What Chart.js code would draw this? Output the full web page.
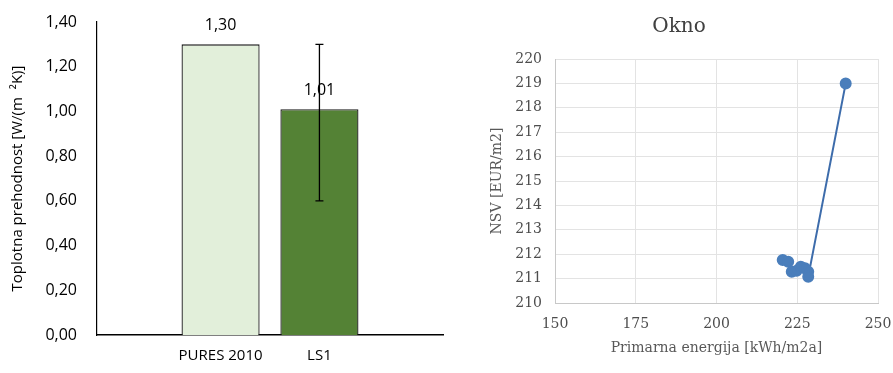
<!DOCTYPE html>
<html>
<head>
<meta charset="utf-8">
<script src="https://cdn.jsdelivr.net/npm/chart.js@4.4.1/dist/chart.umd.min.js"></script>
<style>
  html, body { margin: 0; padding: 0; background: #fff; }
  #wrap { position: relative; width: 893px; height: 373px; }
  .box { position: absolute; top: 0; height: 373px; }
  #uBox { left: 0; width: 450px; }
  #oknoBox { left: 480px; width: 413px; filter: blur(0.6px); }
</style>
</head>
<body>
<div id="wrap">
  <div class="box" id="uBox"><canvas id="uChart" width="450" height="373"></canvas></div>
  <div class="box" id="oknoBox"><canvas id="oknoChart" width="413" height="373"></canvas></div>
</div>
<script>
// Toplotna prehodnost - bar comparison
const uCategories = ['PURES 2010', 'LS1'];
const uPositions = [1.25, 2.25];
const uValues = [1.30, 1.01];
const uErrLow = [null, 0.60];
const uErrHigh = [null, 1.30];
const uColors = ['#e2efda', '#548235'];

// Okno - primary energy vs NSV
const energy = [220.5, 222.2, 223.3, 224.8, 226.1, 227.4, 228.4, 228.4, 240];
const nsv = [211.76, 211.69, 211.28, 211.32, 211.49, 211.42, 211.28, 211.08, 219];

const fmt = v => v.toFixed(2).replace('.', ',');
const noTick = 'rgba(0,0,0,0)';

// value labels + error bar on top of the bars
const barExtras = {
    id: 'barExtras',
    afterDatasetsDraw(chart) {
        const ctx = chart.ctx;
        const yScale = chart.scales.y;
        const bars = chart.getDatasetMeta(0).data;
        ctx.save();
        ctx.fillStyle = '#000';
        ctx.font = '16px "Open Sans"';
        ctx.textAlign = 'center';
        ctx.textBaseline = 'middle';
        bars.forEach((bar, i) => {
            ctx.fillText(fmt(uValues[i]), bar.x, bar.y - 19);
        });
        ctx.strokeStyle = '#000';
        ctx.lineWidth = 1.3;
        bars.forEach((bar, i) => {
            if (uErrLow[i] === null) return;
            const yLo = yScale.getPixelForValue(uErrLow[i]);
            const yHi = yScale.getPixelForValue(uErrHigh[i]);
            ctx.beginPath();
            ctx.moveTo(bar.x, yLo);
            ctx.lineTo(bar.x, yHi);
            ctx.moveTo(bar.x - 4, yLo);
            ctx.lineTo(bar.x + 4, yLo);
            ctx.moveTo(bar.x - 4, yHi);
            ctx.lineTo(bar.x + 4, yHi);
            ctx.stroke();
        });
        ctx.restore();
    }
};

new Chart(document.getElementById('uChart'), {
    type: 'bar',
    data: {
        datasets: [{
            data: uPositions.map((x, i) => ({ x: x, y: uValues[i] })),
            backgroundColor: uColors,
            borderColor: '#1a1a1a',
            borderWidth: 1.3,
            barPercentage: 0.79,
            categoryPercentage: 1
        }]
    },
    options: {
        responsive: false,
        animation: false,
        devicePixelRatio: 1,
        layout: { padding: { left: 0, right: 7, top: 22, bottom: 0 } },
        plugins: { legend: { display: false }, tooltip: { enabled: false } },
        scales: {
            x: {
                type: 'linear',
                min: 0,
                max: 3.5,
                offset: false,
                bounds: 'data',
                afterBuildTicks: scale => { scale.ticks = uPositions.map(v => ({ value: v })); },
                afterFit: scale => { scale.height = 38; },
                grid: { display: false, drawTicks: false, offset: false },
                border: { display: true, color: '#000', width: 1.5 },
                ticks: {
                    autoSkip: false,
                    maxRotation: 0,
                    padding: 12,
                    color: '#000',
                    font: { family: 'Open Sans', size: 15 },
                    callback: (v, i) => uCategories[i]
                }
            },
            y: {
                min: 0,
                max: 1.4,
                afterFit: scale => { scale.width = 97; },
                grid: { display: false, drawTicks: true, tickLength: 20, tickColor: noTick },
                border: { display: true, color: '#000', width: 1.2 },
                ticks: {
                    stepSize: 0.2,
                    padding: 0,
                    color: '#000',
                    font: { family: 'Open Sans', size: 16 },
                    callback: v => fmt(v)
                },
                title: {
                    display: true,
                    text: 'Toplotna prehodnost [W/(m  ²K)]',
                    color: '#000',
                    padding: { top: 9 },
                    font: { family: 'Open Sans', size: 15 }
                }
            }
        }
    },
    plugins: [barExtras]
});

const serif = { family: 'DejaVu Serif', size: 14 };

new Chart(document.getElementById('oknoChart'), {
    type: 'scatter',
    data: {
        datasets: [{
            data: energy.map((x, i) => ({ x: x, y: nsv[i] })),
            showLine: true,
            borderColor: '#3d6cab',
            borderWidth: 2,
            pointRadius: 5,
            pointBackgroundColor: '#4a7ebb',
            pointBorderColor: '#4a7ebb'
        }]
    },
    options: {
        responsive: false,
        animation: false,
        devicePixelRatio: 1,
        layout: { padding: { left: 0, right: 15, top: 0, bottom: 0 } },
        plugins: {
            legend: { display: false },
            tooltip: { enabled: false },
            title: {
                display: true,
                text: 'Okno',
                color: '#404040',
                padding: { top: 15, bottom: 20 },
                font: { family: 'DejaVu Serif', size: 20, weight: 'normal' }
            }
        },
        scales: {
            x: {
                min: 150,
                max: 250,
                afterFit: scale => { scale.height = 70; },
                grid: { color: '#e3e3e3', drawTicks: true, tickLength: 13, tickColor: noTick },
                border: { color: '#c8c8c8' },
                ticks: { stepSize: 25, padding: 0, color: '#4d4d4d', font: serif },
                title: {
                    display: true,
                    text: 'Primarna energija [kWh/m2a]',
                    color: '#595959',
                    padding: { bottom: 16 },
                    font: serif
                }
            },
            y: {
                min: 210,
                max: 220,
                afterFit: scale => { scale.width = 75; },
                grid: { color: '#e3e3e3', drawTicks: true, tickLength: 13, tickColor: noTick },
                border: { color: '#c8c8c8' },
                ticks: { stepSize: 1, padding: 0, color: '#4d4d4d', font: serif },
                title: {
                    display: true,
                    text: 'NSV [EUR/m2]',
                    color: '#595959',
                    padding: { top: 9 },
                    font: serif
                }
            }
        }
    }
});
</script>
</body>
</html>
